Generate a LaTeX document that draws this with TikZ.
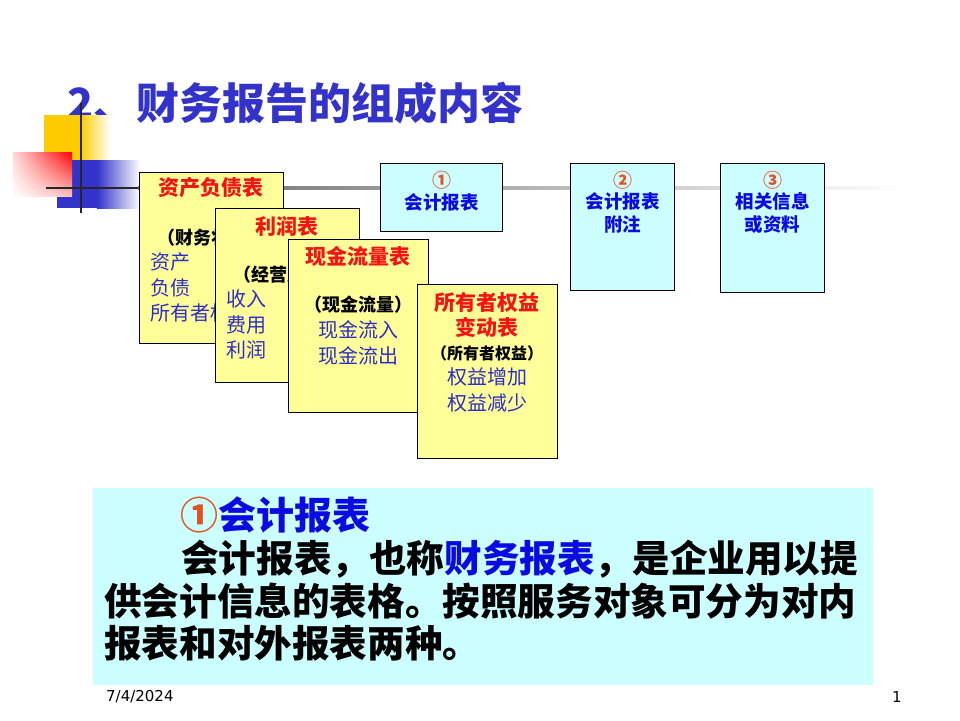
\documentclass[tikz,border=0pt]{standalone}
\usepackage{fontspec}
\setmainfont{Noto Sans CJK SC}
\newfontfamily\footfont{DejaVu Sans}
\usetikzlibrary{calc,shadings}

\definecolor{titleblue}{RGB}{51,51,204}
\definecolor{boxyellow}{RGB}{255,255,153}
\definecolor{boxcyan}{RGB}{204,255,255}
\definecolor{headred}{RGB}{245,20,20}
\definecolor{numorange}{RGB}{230,80,30}
\definecolor{itemblue}{RGB}{45,45,200}
\definecolor{labelblue}{RGB}{10,10,225}
\definecolor{decogold}{RGB}{255,204,0}
\definecolor{decoblue}{RGB}{51,51,204}

\tikzset{
  yellowbox/.style={draw, line width=1.2pt, fill=boxyellow, anchor=north west, inner sep=0pt},
  cyanbox/.style={draw, line width=1.2pt, fill=boxcyan, anchor=north west, inner sep=0pt},
  redhead/.style={text=headred, font=\fontsize{21}{25}\selectfont\bfseries, inner sep=0pt, align=center},
  note/.style={font=\fontsize{18}{22}\selectfont\bfseries, inner sep=0pt},
  item/.style={text=itemblue, font=\fontsize{20}{26}\selectfont, inner sep=0pt, align=center},
  numtext/.style={text=numorange, font=\fontsize{19}{22}\selectfont\bfseries, inner sep=0pt},
  boxlabel/.style={text=labelblue, font=\fontsize{18.5}{22.5}\selectfont\bfseries, inner sep=0pt, align=center},
  bodytext/.style={font=\fontsize{37.6}{42}\selectfont\bfseries, inner sep=0pt, anchor=west},
}

\begin{document}
\begin{tikzpicture}[x=1pt,y=-1pt]
\useasboundingbox (0,0) rectangle (960,720);

% Titre
  \node[text=titleblue, font=\fontsize{43}{48}\selectfont\bfseries, anchor=west, inner sep=0pt] (title) at (67,103) {2、财务报告的组成内容};

% Decor
  \fill[decogold] (44,115) rectangle (81,160);
  \shade[left color=decogold, right color=white] (81,115) rectangle (110,160);
  \fill[decoblue] (57,160) rectangle (97,208);
  \shade[left color=decoblue, right color=white] (97,160) rectangle (140,208);
  \shade[upper right=red, upper left=red!15, lower right=red!25, lower left=white] (13,152) rectangle (72,196);
  \shade[left color=black!60, right color=white] (138,186.8) rectangle (905,189.2);
  \draw[line width=2.6pt, black!85] (46,188) -- (138,188);
  \draw[line width=2.6pt, black!85] (81,103) -- (81,213);

% Bilan
  \node[yellowbox, minimum width=144, minimum height=171] (b1) at (139,172) {};
  \node[redhead] (b1-head) at (211,188) {资产负债表};
  \node[note] (b1-note) at (211,238) {（财务状况）};
  \node[item, anchor=west] (b1-a) at (150,262) {资产};
  \node[item, anchor=west] (b1-b) at (150,288) {负债};
  \node[item, anchor=west] (b1-c) at (150,313) {所有者权益};

% Resultat
  \node[yellowbox, minimum width=144, minimum height=174] (b2) at (215,208) {};
  \node[redhead] (b2-head) at (287,226) {利润表};
  \node[note] (b2-note) at (287,275) {（经营成果）};
  \node[item, anchor=west] (b2-a) at (226,299) {收入};
  \node[item, anchor=west] (b2-b) at (226,325) {费用};
  \node[item, anchor=west] (b2-c) at (226,350) {利润};

% Flux
  \node[yellowbox, minimum width=140, minimum height=173] (b3) at (288,239) {};
  \node[redhead] (b3-head) at (358,256) {现金流量表};
  \node[note] (b3-note) at (358,305) {（现金流量）};
  \node[item] (b3-a) at (358,343) {现金流入\\现金流出};

% Capitaux
  \node[yellowbox, minimum width=140, minimum height=174] (b4) at (417,284) {};
  \node[redhead] (b4-head) at (487,315) {所有者权益\\变动表};
  \node[note, font=\fontsize{16}{20}\selectfont\bfseries] (b4-note) at (487,353) {（所有者权益）};
  \node[item] (b4-a) at (487,390) {权益增加\\权益减少};

% Cases
  \foreach \n/\x/\w/\h/\num/\txt/\ty in {1/380/122/68/①/会计报表/202,
      2/570/104/127/②/{会计报表\\附注}/213, 3/720/104/129/③/{相关信息\\或资料}/213}{
    \node[cyanbox, minimum width=\w, minimum height=\h] (c\n) at (\x,163) {};
    \node[numtext] (c\n-num) at ($(c\n.north)+(0,17)$) {\num};
    \node[boxlabel] (c\n-txt) at ($(c\n.north)+(0,\ty-163)$) {\txt};
  }

% Texte
  \node[fill=boxcyan, anchor=north west, minimum width=780, minimum height=197, inner sep=0pt] (panel) at (93,488) {};
  \node[bodytext, font=\fontsize{38}{42}\selectfont\bfseries, text=labelblue] (head) at (180,515) {\textcolor{numorange}{①}会计报表};
  \node[bodytext] (line1) at (181,559) {会计报表，也称\textcolor{labelblue}{财务报表}，是企业用以提};
  \node[bodytext] (line2) at (104,601) {供会计信息的表格。按照服务对象可分为对内};
  \node[bodytext] (line3) at (104,643) {报表和对外报表两种。};

% Pied
  \node[font=\footfont\fontsize{15}{18}\selectfont, anchor=west, inner sep=0pt] (date) at (106,697) {7/4/2024};
  \node[font=\footfont\fontsize{15}{18}\selectfont, inner sep=0pt] (page) at (897,697) {1};

\end{tikzpicture}
\end{document}
